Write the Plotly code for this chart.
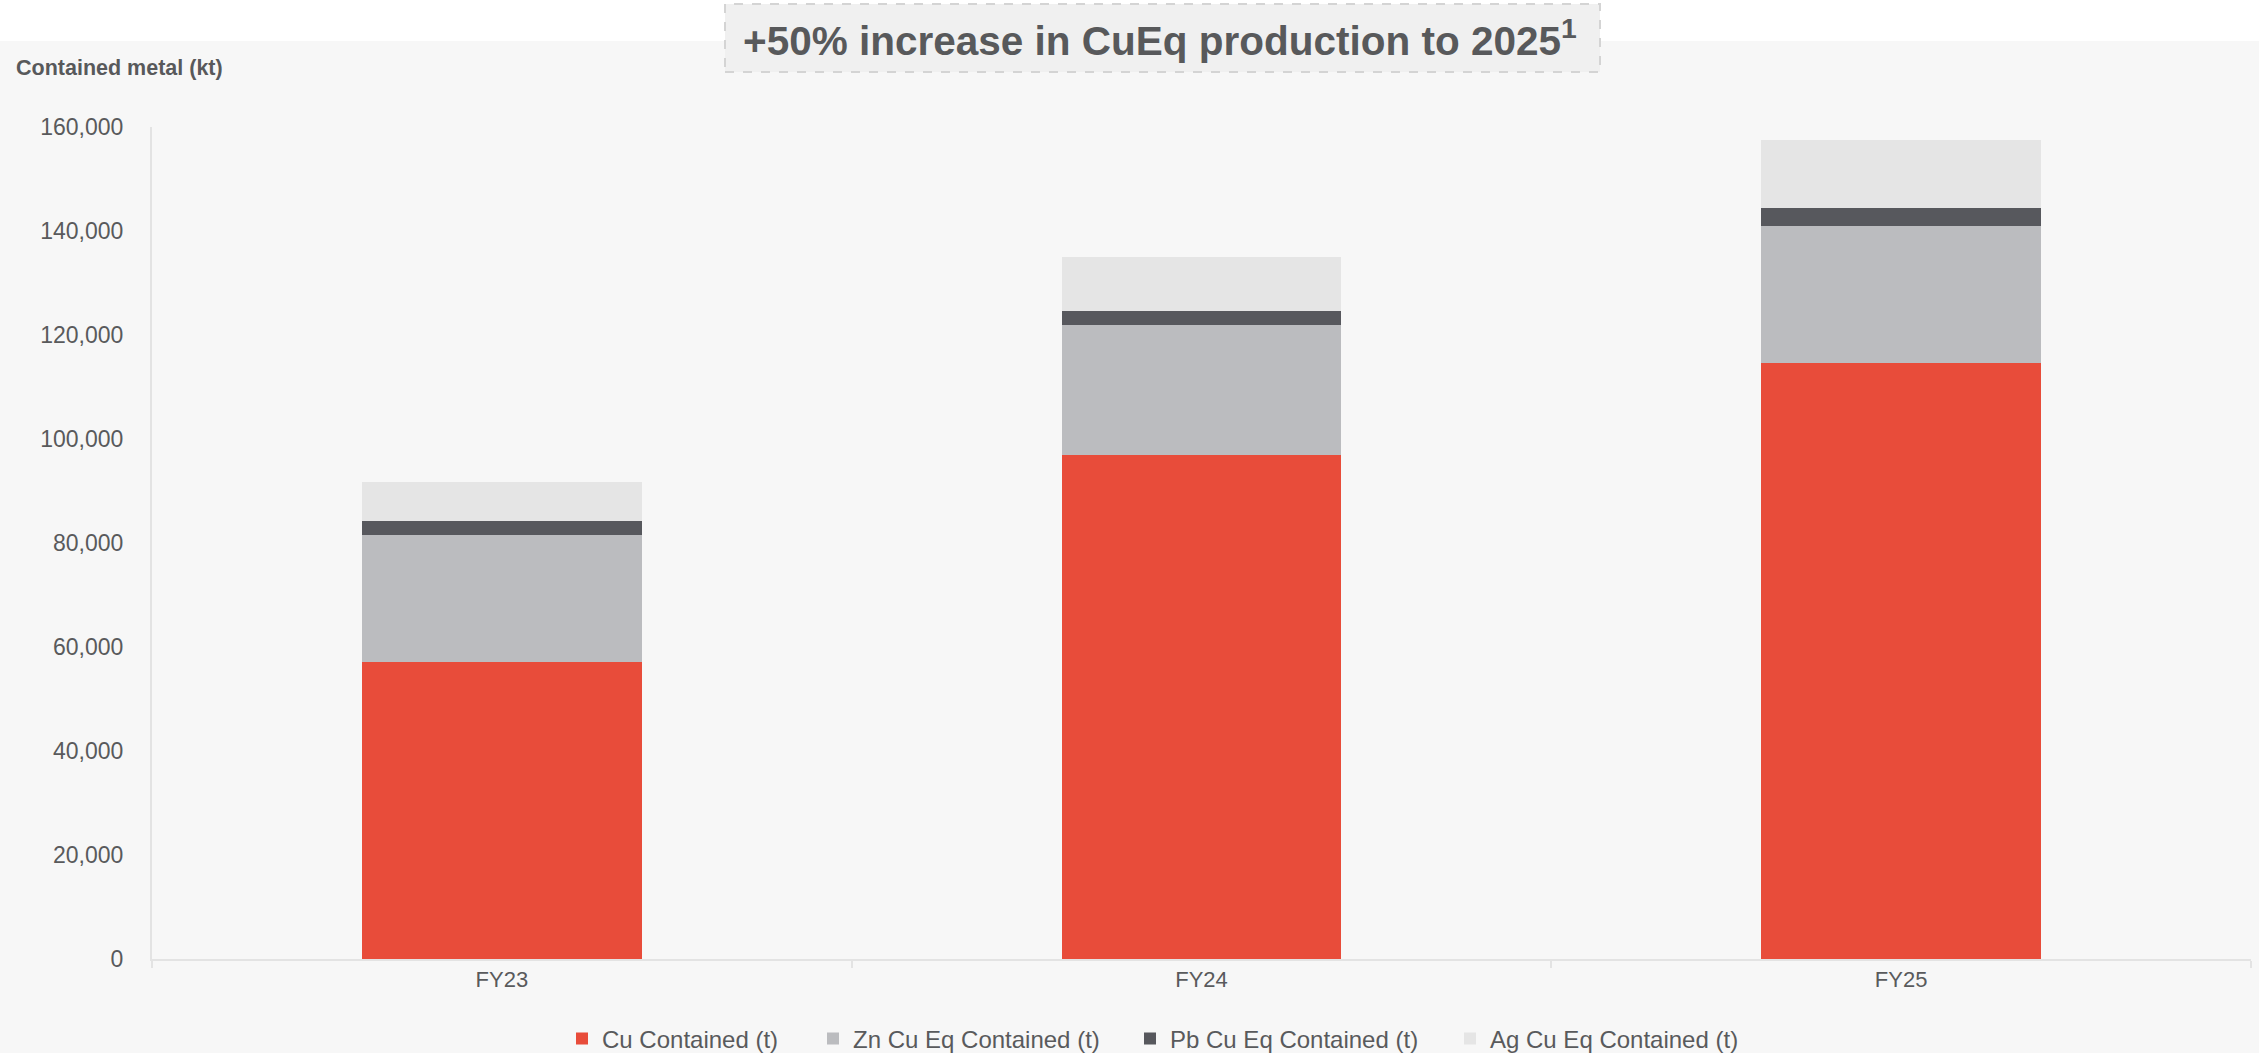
import plotly.graph_objects as go

categories = ["FY23", "FY24", "FY25"]
cu_contained = [57200, 96900, 114600]
zn_cueq = [24400, 25000, 26400]
pb_cueq = [2700, 2700, 3500]
ag_cueq = [7500, 10400, 13000]

series_names = ["Cu Contained (t)", "Zn Cu Eq Contained (t)", "Pb Cu Eq Contained (t)", "Ag Cu Eq Contained (t)"]
series_values = [cu_contained, zn_cueq, pb_cueq, ag_cueq]
series_colors = ["#e84c3a", "#bbbcbf", "#57585d", "#e5e5e5"]

title_text = "+50% increase in CuEq production to 2025<sup>1</sup>"
y_title = "Contained metal (kt)"
y_ticks = [0, 20000, 40000, 60000, 80000, 100000, 120000, 140000, 160000]

FONT = "Arial, 'Liberation Sans', sans-serif"
TXT = "#595a5c"

W, H = 2259, 1053
ML, MR, MT, MB = 152, 8, 127, 94
PW = W - ML - MR
PH = H - MT - MB

def px_x(x):
    return (x - ML) / PW

def px_y(y):
    return 1 + (MT - y) / PH

legend_ids = ["legend", "legend2", "legend3", "legend4"]
legend_symbol_left = [576, 827, 1144, 1464]

fig = go.Figure()
for name, vals, col, lid in zip(series_names, series_values, series_colors, legend_ids):
    fig.add_trace(go.Bar(
        x=categories, y=vals, name=name,
        marker=dict(color=col, line=dict(width=0)),
        width=0.4, legend=lid,
    ))

legend_layout = {}
for lid, sx in zip(legend_ids, legend_symbol_left):
    legend_layout[lid] = dict(
        orientation="h", xref="container", yref="container",
        x=(sx - 14) / W, xanchor="left", y=1 - 1039 / H, yanchor="middle",
        font=dict(size=24, color=TXT),
        bgcolor="rgba(0,0,0,0)",
    )

fig.update_layout(
    width=W, height=H,
    barmode="stack",
    paper_bgcolor="#f7f7f7",
    plot_bgcolor="#f7f7f7",
    margin=dict(l=ML, r=MR, t=MT, b=MB, pad=0, autoexpand=False),
    font=dict(family=FONT, color=TXT, size=22),
    showlegend=True,
    xaxis=dict(
        showline=True, linecolor="#e3e3e3", linewidth=2,
        ticks="outside", tickson="boundaries", ticklen=7, tickcolor="#e3e3e3", tickwidth=2,
        showgrid=False, tickfont=dict(size=22, color=TXT), zeroline=False,
    ),
    yaxis=dict(
        range=[0, 160000], tickvals=y_ticks, tickformat=",",
        showline=True, linecolor="#e3e3e3", linewidth=2,
        showgrid=False, zeroline=False, ticks="", ticklabelstandoff=22,
        tickfont=dict(size=23, color=TXT),
    ),
    shapes=[
        dict(type="rect", xref="paper", yref="paper",
             x0=px_x(0), x1=px_x(W), y0=px_y(41), y1=px_y(0),
             fillcolor="#ffffff", line=dict(width=0), layer="below"),
        dict(type="rect", xref="paper", yref="paper",
             x0=px_x(725), x1=px_x(1600), y0=px_y(72), y1=px_y(4),
             fillcolor="#f0f0f0", line=dict(color="#d4d4d4", width=2, dash="dash")),
    ],
    annotations=[
        dict(text="<b>" + title_text + "</b>", xref="paper", yref="paper",
             x=px_x(1160), y=px_y(38), xanchor="center", yanchor="middle",
             showarrow=False, font=dict(size=40.5, color="#58595b", family=FONT)),
        dict(text="<b>" + y_title + "</b>", xref="paper", yref="paper",
             x=px_x(14), y=px_y(68), xanchor="left", yanchor="middle",
             showarrow=False, font=dict(size=21.5, color="#58595b", family=FONT)),
    ],
    **legend_layout,
)

fig.write_html("out.html")
